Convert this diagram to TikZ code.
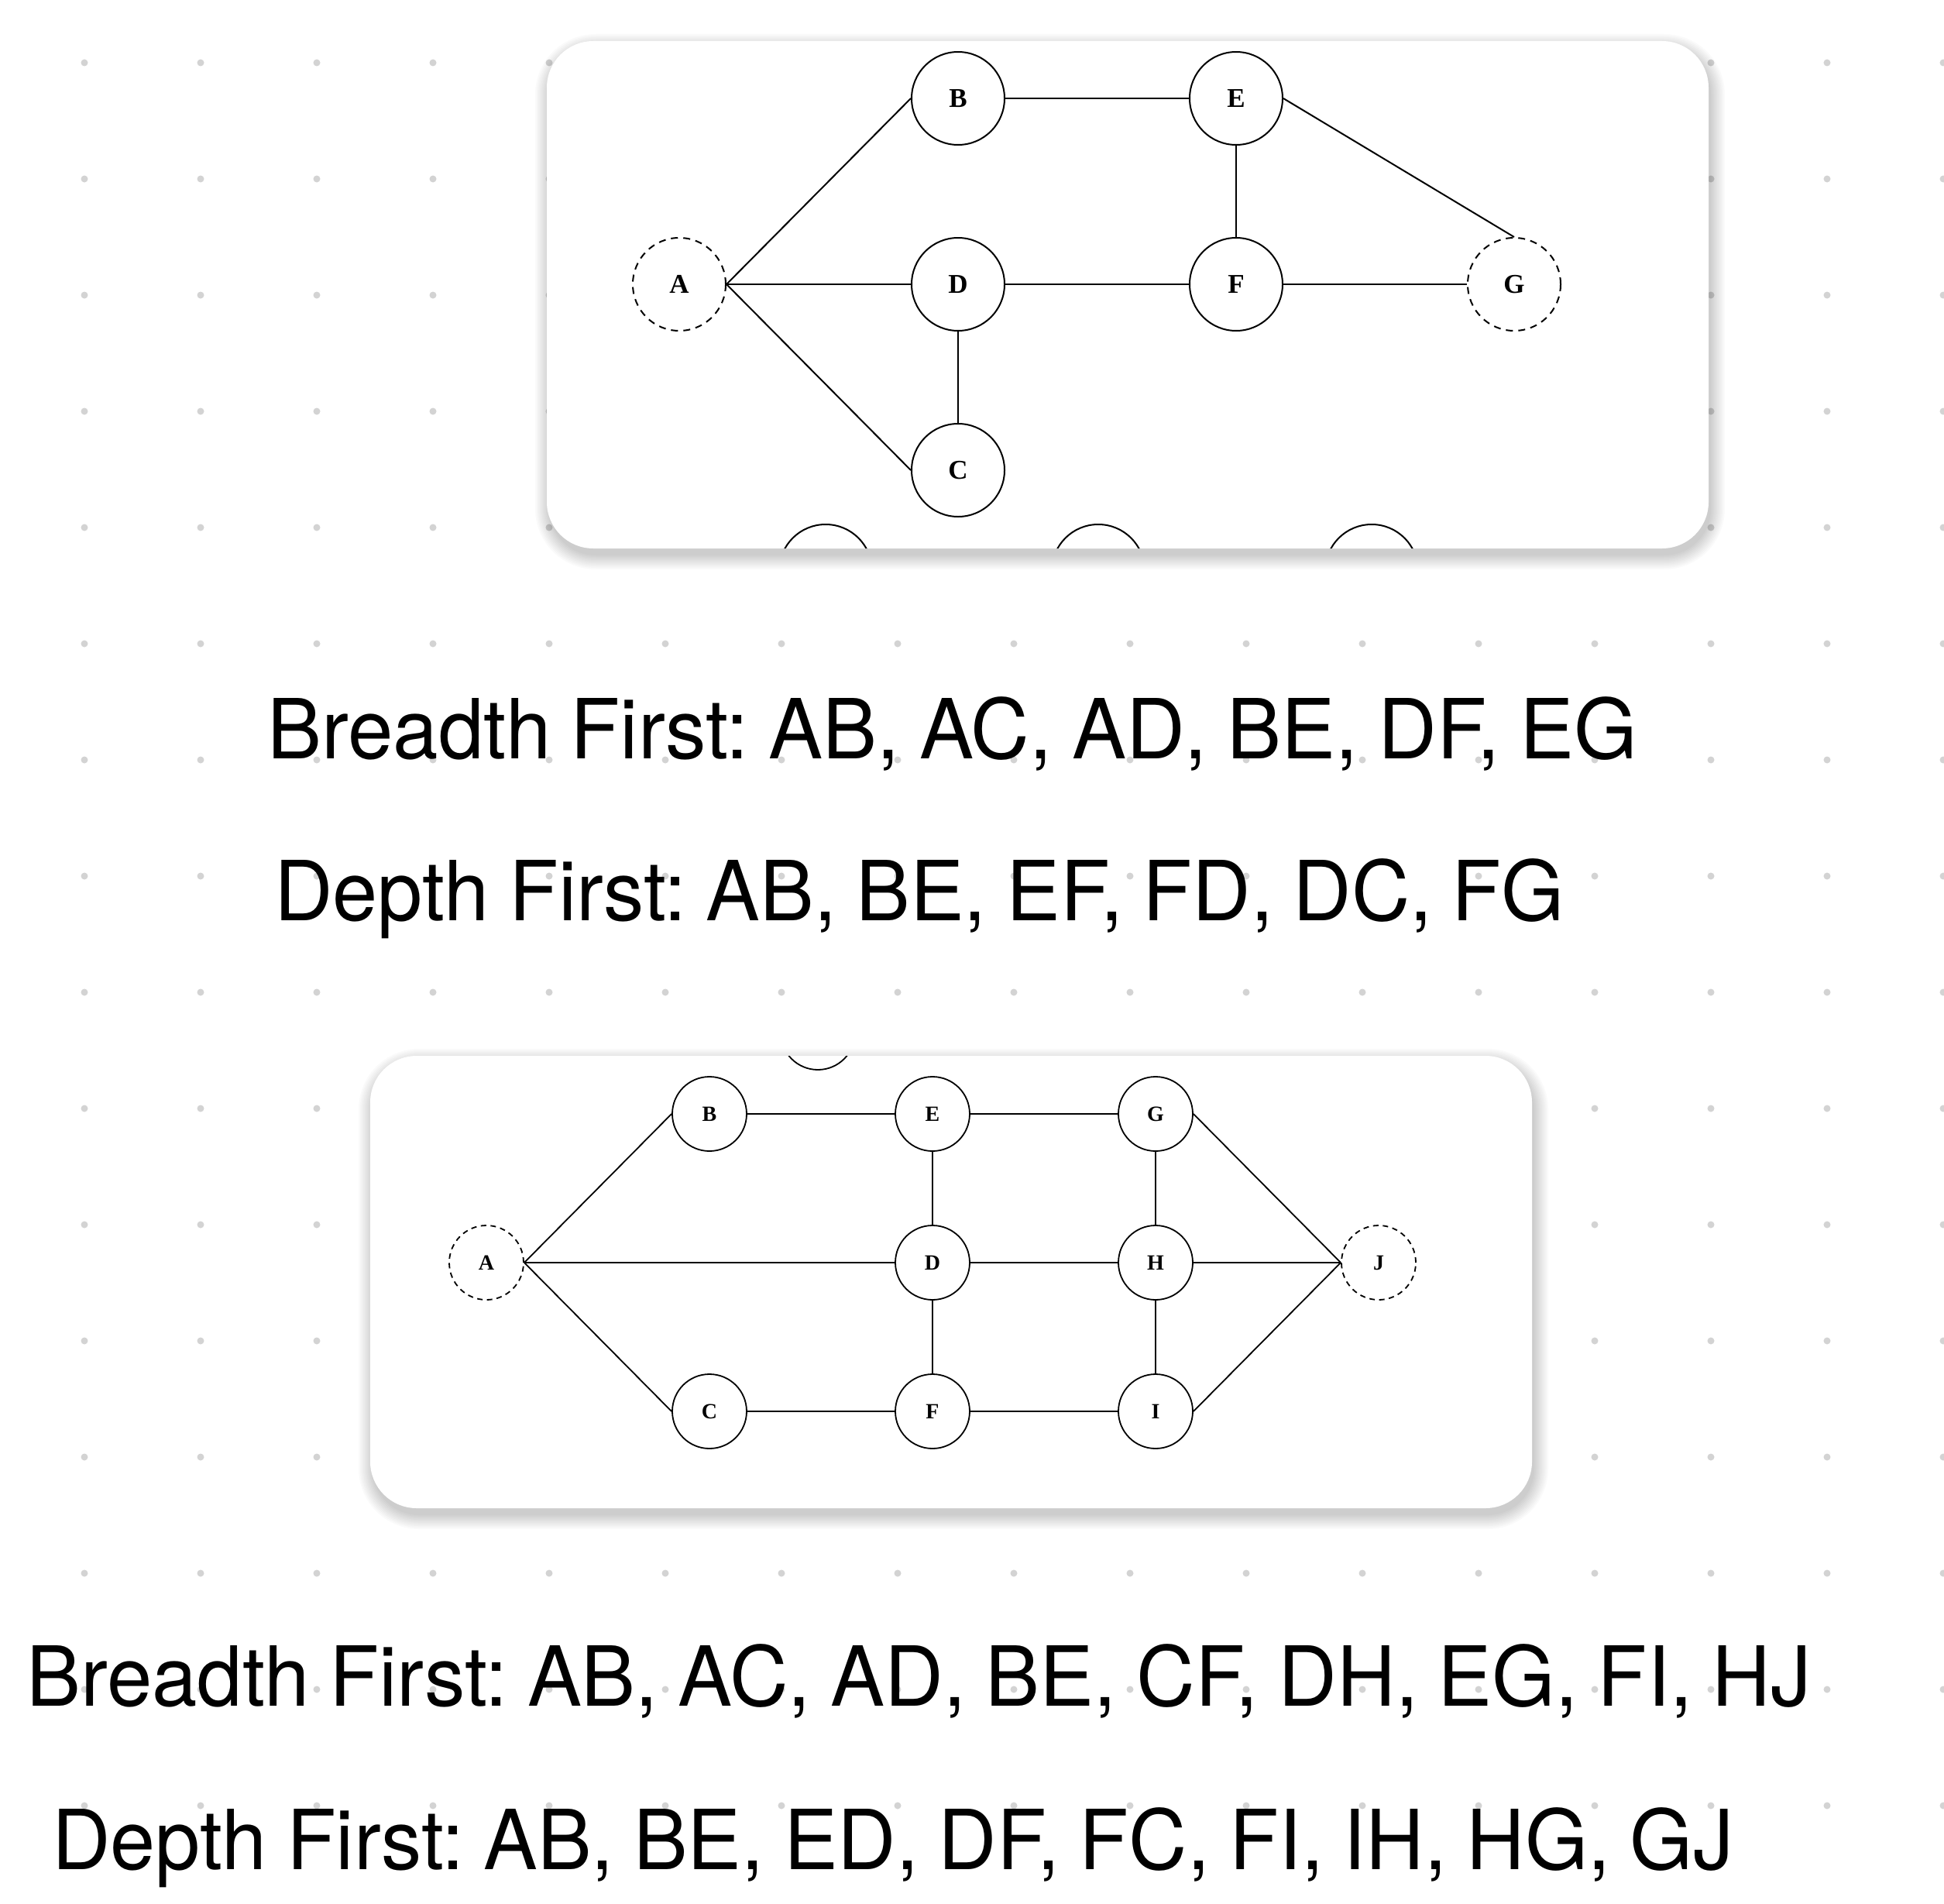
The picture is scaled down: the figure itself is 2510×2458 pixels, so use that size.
\documentclass[tikz,border=0pt]{standalone}
\usepackage{fontspec}
\usepackage{graphicx}
\newfontfamily\lblfont{Liberation Serif}
\newfontfamily\txtfont{TeX Gyre Heros}
\definecolor{dotc}{HTML}{D3D3D3}
\frenchspacing
\newcommand\txtsetup{\txtfont\fontsize{107bp}{120bp}\selectfont\spaceskip 26bp\relax}
\tikzset{
  vtx/.style={circle, draw=black, fill=white, line width=2bp, inner sep=0pt,
              minimum size=120bp, font=\lblfont\bfseries\fontsize{35bp}{40bp}\selectfont},
  vtxs/.style={circle, draw=black, fill=white, line width=1.8bp, inner sep=0pt,
              minimum size=96bp, font=\lblfont\bfseries\fontsize{28bp}{32bp}\selectfont},
  start/.style={dash pattern=on 9bp off 7bp},
  starts/.style={dash pattern=on 7bp off 5.6bp},
  edge/.style={draw=black, line width=2bp},
  edges/.style={draw=black, line width=1.8bp},
  txt/.style={inner sep=0pt, anchor=base west, font=\txtsetup},
  card/.style={fill=white, rounded corners=60bp}
}
\begin{document}
\begin{tikzpicture}[x=1bp, y=-1bp]
\useasboundingbox (0,0) rectangle (2510,2458);
\fill[white] (0,0) rectangle (2510,2458);
% dot grid
\foreach \i in {0,...,16} \foreach \j in {0,...,15}
  \fill[dotc] (109+150*\i, 81+150*\j) circle[radius=4.5bp];
% shadows
\foreach \k [evaluate=\k as \s using 2*\k, evaluate=\k as \r using 60+2*\k] in {0,...,9} {
  \fill[black, opacity=0.018, rounded corners=\r bp] (706-\s+3, 53-\s+9) rectangle (2206+\s+3, 708+\s+9);
  \fill[black, opacity=0.018, rounded corners=\r bp] (478-\s+3, 1363-\s+9) rectangle (1978+\s+3, 1947+\s+9);
}
% card 1
\fill[card] (706,53) rectangle (2206,708);
\begin{scope}
  \clip[rounded corners=60bp] (706,53) rectangle (2206,708);
  \node[vtx, start] (a1) at (877,367) {A};
  \node[vtx] (b1) at (1237,127) {B};
  \node[vtx] (d1) at (1237,367) {D};
  \node[vtx] (c1) at (1237,607) {C};
  \node[vtx] (e1) at (1596,127) {E};
  \node[vtx] (f1) at (1596,367) {F};
  \node[vtx, start] (g1) at (1955,367) {G};
  \node[vtx] (p1) at (1066,737) {};
  \node[vtx] (p2) at (1418,737) {};
  \node[vtx] (p3) at (1771,737) {};
  \draw[edge] (a1.east) -- (b1.west);
  \draw[edge] (a1.east) -- (d1.west);
  \draw[edge] (a1.east) -- (c1.west);
  \draw[edge] (b1.east) -- (e1.west);
  \draw[edge] (e1.south) -- (f1.north);
  \draw[edge] (e1.east) -- (g1.north);
  \draw[edge] (d1.east) -- (f1.west);
  \draw[edge] (f1.east) -- (g1.west);
  \draw[edge] (d1.south) -- (c1.north);
\end{scope}
% texts 1
\node[txt] (bf1) at (345,979) {\resizebox{1769bp}{\height}{Breadth First: AB, AC, AD, BE, DF, EG}};
\node[txt] (df1) at (354,1188) {\resizebox{1666bp}{\height}{Depth First: AB, BE, EF, FD, DC, FG}};
% card 2
\fill[card] (478,1363) rectangle (1978,1947);
\begin{scope}
  \clip[rounded corners=60bp] (478,1363) rectangle (1978,1947);
  \node[vtxs, starts] (a2) at (628,1630) {A};
  \node[vtxs] (b2) at (916,1438) {B};
  \node[vtxs] (e2) at (1204,1438) {E};
  \node[vtxs] (g2) at (1492,1438) {G};
  \node[vtxs] (d2) at (1204,1630) {D};
  \node[vtxs] (h2) at (1492,1630) {H};
  \node[vtxs, starts] (j2) at (1780,1630) {J};
  \node[vtxs] (c2) at (916,1822) {C};
  \node[vtxs] (f2) at (1204,1822) {F};
  \node[vtxs] (i2) at (1492,1822) {I};
  \node[vtxs] (q1) at (1056,1333) {};
  \draw[edges] (a2.east) -- (b2.west);
  \draw[edges] (a2.east) -- (d2.west);
  \draw[edges] (a2.east) -- (c2.west);
  \draw[edges] (b2.east) -- (e2.west);
  \draw[edges] (e2.east) -- (g2.west);
  \draw[edges] (e2.south) -- (d2.north);
  \draw[edges] (g2.south) -- (h2.north);
  \draw[edges] (d2.east) -- (h2.west);
  \draw[edges] (h2.east) -- (j2.west);
  \draw[edges] (g2.east) -- (j2.west);
  \draw[edges] (i2.east) -- (j2.west);
  \draw[edges] (d2.south) -- (f2.north);
  \draw[edges] (h2.south) -- (i2.north);
  \draw[edges] (c2.east) -- (f2.west);
  \draw[edges] (f2.east) -- (i2.west);
\end{scope}
% texts 2
\node[txt] (bf2) at (34,2202) {\resizebox{2305bp}{\height}{Breadth First: AB, AC, AD, BE, CF, DH, EG, FI, HJ}};
\node[txt] (df2) at (67,2413) {\resizebox{2171bp}{\height}{Depth First: AB, BE, ED, DF, FC, FI, IH, HG, GJ}};
\end{tikzpicture}
\end{document}
